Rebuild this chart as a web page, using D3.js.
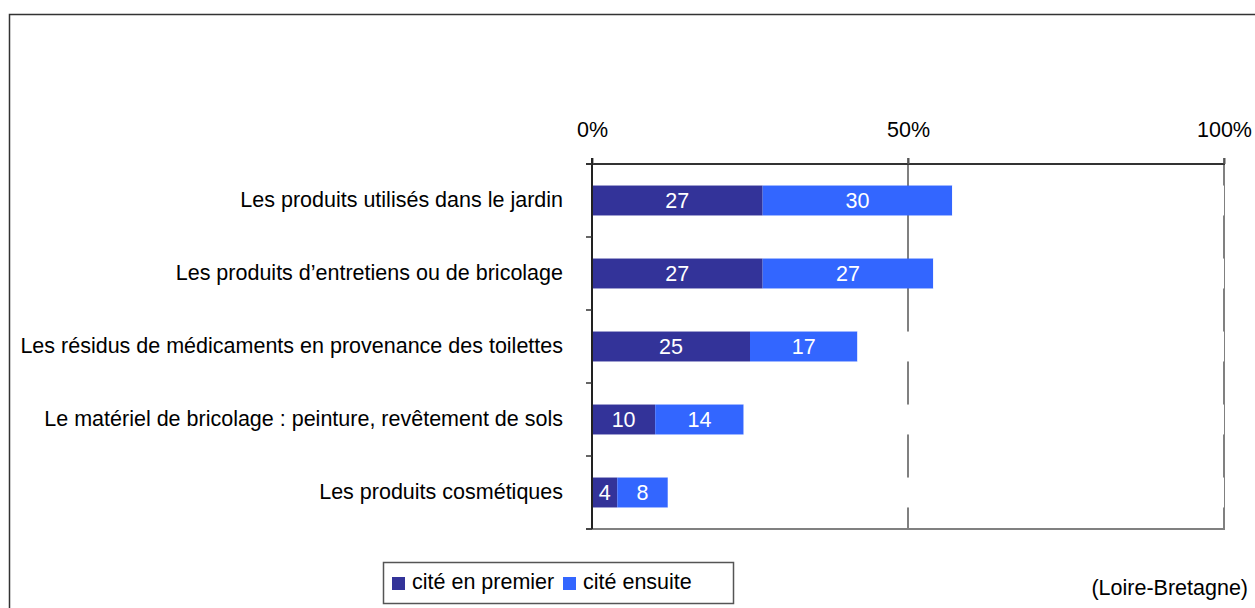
<!DOCTYPE html>
<html>
<head>
<meta charset="utf-8">
<script src="https://cdn.jsdelivr.net/npm/d3@7"></script>
<style>
  body { margin: 0; background: #fff; }
  svg, svg text { font-family: "Liberation Sans", Arial, sans-serif; }
</style>
</head>
<body>
<svg width="1255" height="608"></svg>
<script>
const categories = [
  'Les produits utilisés dans le jardin',
  'Les produits d\u2019entretiens ou de bricolage',
  'Les résidus de médicaments en provenance des toilettes',
  'Le matériel de bricolage : peinture, revêtement de sols',
  'Les produits cosmétiques'
]
const premier = [27, 27, 25, 10, 4]
const ensuite = [30, 27, 17, 14, 8]
const reste = [43, 46, 58, 76, 88]
const seriesNames = ['cité en premier', 'cité ensuite']
const tickValues = [0, 50, 100]
const source = '(Loire-Bretagne)'

const svg = d3.select('svg')
const fontSize = 21.5

// outer frame
svg.append('rect')
  .attr('x', 9.5).attr('y', 14.5)
  .attr('width', 1300).attr('height', 700)
  .attr('fill', 'none').attr('stroke', '#333').attr('stroke-width', 1.5)

const x = d3.scaleLinear().domain([0, 100]).range([592, 1224])
const y = d3.scaleBand().domain(categories).range([164, 529]).padding(0)
const barH = y.bandwidth() * 0.41

const rows = categories.map((c, i) => ({ cat: c, premier: premier[i], ensuite: ensuite[i], reste: reste[i] }))
const keys = ['premier', 'ensuite', 'reste']
const colors = { premier: '#333399', ensuite: '#3366ff', reste: '#ffffff' }
const stacked = d3.stack().keys(keys)(rows)

// grid lines
svg.append('g').selectAll('line')
  .data(tickValues.slice(1))
  .enter().append('line')
  .attr('x1', d => x(d)).attr('x2', d => x(d))
  .attr('y1', 158).attr('y2', 529)
  .attr('stroke', '#808080').attr('stroke-width', 2)

// bottom border of plot area
svg.append('line')
  .attr('x1', 586).attr('x2', x(100) + 1)
  .attr('y1', 529).attr('y2', 529)
  .attr('stroke', '#808080').attr('stroke-width', 2)

// bars
const layer = svg.append('g').selectAll('g')
  .data(stacked)
  .enter().append('g')
  .attr('fill', d => colors[d.key])

layer.selectAll('rect')
  .data(d => d)
  .enter().append('rect')
  .attr('x', d => x(d[0]))
  .attr('y', d => y(d.data.cat) + (y.bandwidth() - barH) / 2)
  .attr('width', d => x(d[1]) - x(d[0]))
  .attr('height', barH)

// value labels
layer.filter(d => d.key !== 'reste').selectAll('text')
  .data(d => d.map(v => ({ v: v, key: d.key })))
  .enter().append('text')
  .attr('x', d => (x(d.v[0]) + x(d.v[1])) / 2)
  .attr('y', d => y(d.v.data.cat) + y.bandwidth() / 2)
  .attr('dy', '0.36em')
  .attr('text-anchor', 'middle')
  .attr('fill', '#fff')
  .attr('font-size', fontSize)
  .text(d => d.v.data[d.key])

// top axis
const xAxis = d3.axisTop(x)
  .tickValues(tickValues)
  .tickSize(6)
  .tickPadding(21)
  .tickFormat(d => d + '%')

const gx = svg.append('g')
  .attr('transform', 'translate(0,164)')
  .call(xAxis)
  .attr('font-family', null)
  .attr('font-size', fontSize)
gx.select('.domain').attr('stroke', '#333').attr('stroke-width', 2).attr('d', 'M586,0H' + (x(100) + 1))
gx.selectAll('.tick line').attr('stroke', '#555').attr('stroke-width', 2)
gx.selectAll('.tick text').attr('fill', '#000')

// left axis
const yAxis = d3.axisLeft(y).tickSize(0).tickPadding(29)
const gy = svg.append('g')
  .attr('transform', 'translate(592,0)')
  .call(yAxis)
  .attr('font-family', null)
  .attr('font-size', fontSize)
gy.select('.domain').attr('stroke', '#222').attr('stroke-width', 2).attr('d', 'M0,158V529')
gy.selectAll('.tick text').attr('fill', '#000')

// ticks between categories
const bounds = categories.map(c => y(c)).concat([y.range()[1]])
gy.selectAll('.bound')
  .data(bounds)
  .enter().append('line')
  .attr('class', 'bound')
  .attr('x1', -6).attr('x2', 0)
  .attr('y1', d => d).attr('y2', d => d)
  .attr('stroke', '#333').attr('stroke-width', 1.5)

// legend
const legend = svg.append('g')
legend.append('rect')
  .attr('x', 383.5).attr('y', 562.5)
  .attr('width', 350).attr('height', 41)
  .attr('fill', '#fff').attr('stroke', '#555').attr('stroke-width', 1.5)

const legendX = [392, 563]
const item = legend.selectAll('g.item')
  .data(seriesNames)
  .enter().append('g')
  .attr('class', 'item')
  .attr('transform', (d, i) => 'translate(' + legendX[i] + ',577)')
item.append('rect')
  .attr('width', 13).attr('height', 13)
  .attr('fill', (d, i) => colors[keys[i]])
item.append('text')
  .attr('x', 20).attr('y', 12)
  .attr('font-size', fontSize)
  .text(d => d)

svg.append('text')
  .attr('x', 1248).attr('y', 595)
  .attr('text-anchor', 'end')
  .attr('font-size', fontSize)
  .text(source)
</script>
</body>
</html>
